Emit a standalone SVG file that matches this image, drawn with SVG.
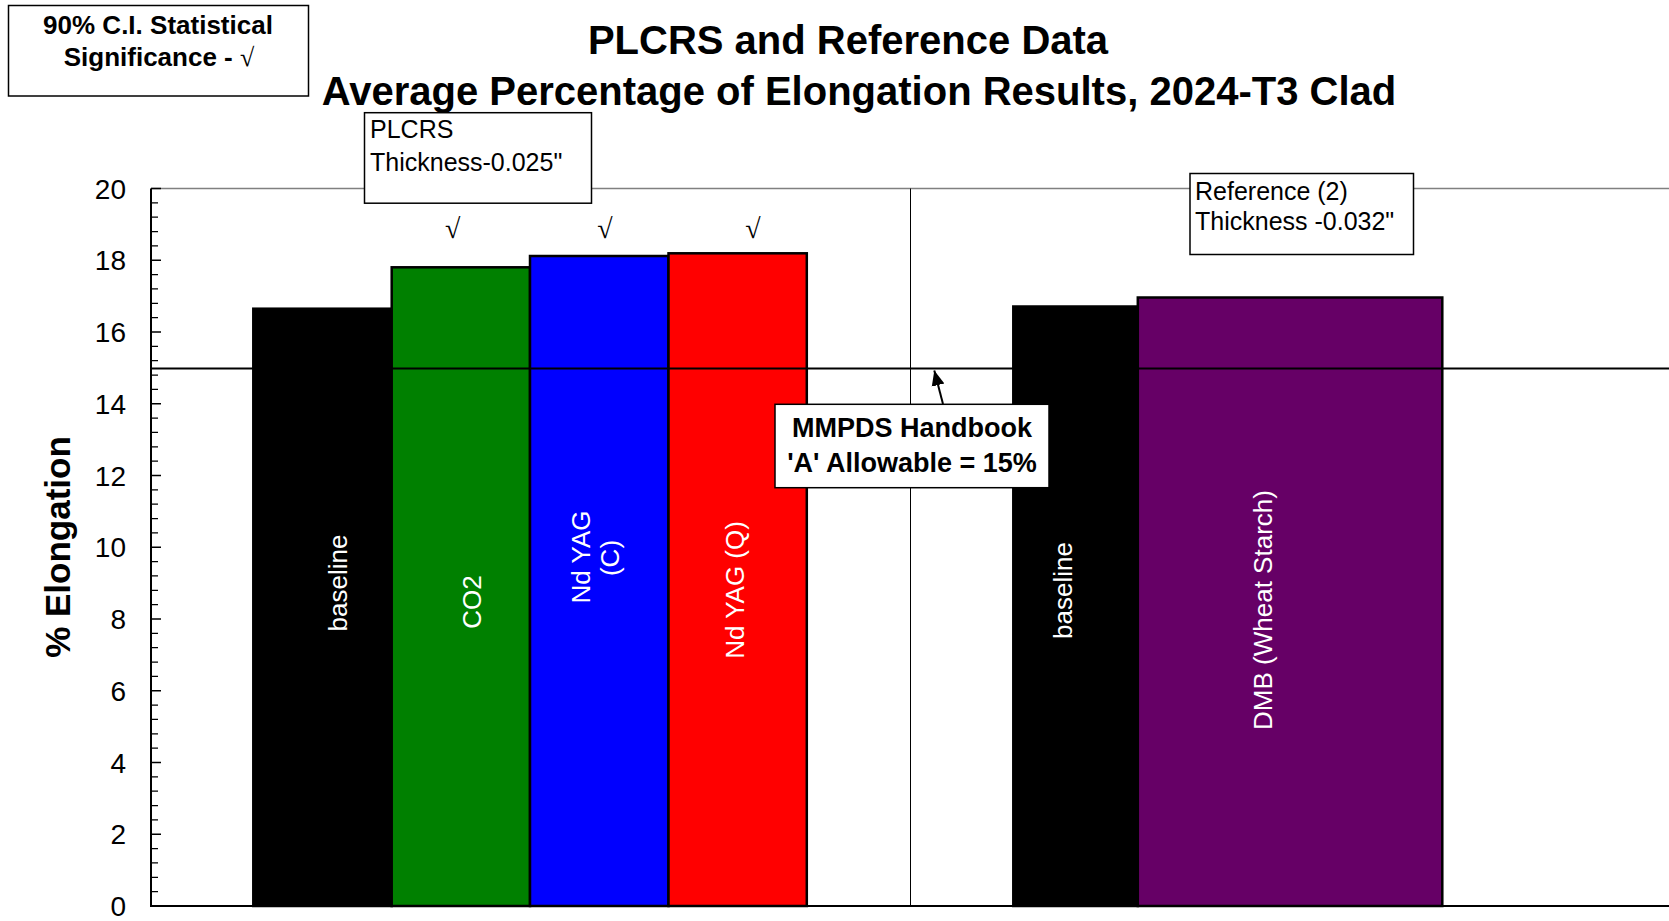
<svg xmlns="http://www.w3.org/2000/svg" width="1669" height="921" viewBox="0 0 1669 921">
<style>
  .sans { font-family: "Liberation Sans", Arial, sans-serif; }
  .bold { font-family: "Liberation Sans", Arial, sans-serif; font-weight: bold; }
  .serif { font-family: "Liberation Serif", "Times New Roman", serif; }
  .tick { font-family: "Liberation Sans", Arial, sans-serif; font-size: 28px; text-anchor: end; fill: #000; }
  .barlabel { font-family: "Liberation Sans", Arial, sans-serif; font-size: 26px; fill: #fff; text-anchor: middle; }
  .bar { stroke: #000; stroke-width: 2.5; }
  .box { fill: #fff; stroke: #000; stroke-width: 1.5; }
  .check { font-family: "Liberation Serif", "Times New Roman", serif; font-size: 28px; text-anchor: middle; }
</style>
<defs>
  <marker id="arrowhead" markerUnits="userSpaceOnUse" markerWidth="16" markerHeight="16" viewBox="0 0 16 16" refX="15" refY="8" orient="auto">
    <path d="M0,1.5 L15,8 L0,14.5 Z" fill="#000"/>
  </marker>
</defs>
<rect x="0" y="0" width="1669" height="921" fill="#fff"/>

<g id="title">
  <text class="bold" x="848" y="54" font-size="40" text-anchor="middle">PLCRS and Reference Data</text>
  <text class="bold" x="859" y="105" font-size="40" text-anchor="middle">Average Percentage of Elongation Results, 2024-T3 Clad</text>
</g>

<g id="plot-frame">
  <line x1="151" y1="188.5" x2="1669" y2="188.5" stroke="#808080" stroke-width="1.5"/>
  <line x1="910.5" y1="188.5" x2="910.5" y2="906" stroke="#000" stroke-width="1"/>
</g>

<g id="bars">
  <rect id="bar-plcrs-baseline" class="bar" x="253.3" y="308.7" width="138.4" height="597.3" fill="#000"/>
  <rect id="bar-co2" class="bar" x="391.7" y="267.3" width="138.3" height="638.7" fill="#008000"/>
  <rect id="bar-ndyag-c" class="bar" x="530" y="256" width="138.5" height="650" fill="#0000ff"/>
  <rect id="bar-ndyag-q" class="bar" x="668.5" y="253.3" width="138.3" height="652.7" fill="#ff0000"/>
  <rect id="bar-ref-baseline" class="bar" x="1013.3" y="306.5" width="124.5" height="599.5" fill="#000"/>
  <rect id="bar-dmb" class="bar" x="1137.8" y="297.5" width="304.5" height="608.5" fill="#660066"/>
</g>

<g id="bar-labels">
  <text class="barlabel" transform="translate(347,583) rotate(-90)">baseline</text>
  <text class="barlabel" transform="translate(481,602) rotate(-90)">CO2</text>
  <text class="barlabel" transform="translate(590,557) rotate(-90)">Nd YAG</text>
  <text class="barlabel" transform="translate(619,558) rotate(-90)">(C)</text>
  <text class="barlabel" transform="translate(744,590) rotate(-90)">Nd YAG (Q)</text>
  <text class="barlabel" transform="translate(1072,590.5) rotate(-90)">baseline</text>
  <text class="barlabel" transform="translate(1272,610) rotate(-90)">DMB (Wheat Starch)</text>
</g>

<g id="checkmarks">
  <text class="check" x="452.6" y="238">√</text>
  <text class="check" x="605" y="238">√</text>
  <text class="check" x="753" y="238">√</text>
</g>

<g id="allowable-line">
  <line x1="151" y1="368.5" x2="1669" y2="368.5" stroke="#000" stroke-width="2.2"/>
</g>

<g id="axes">
  <line x1="151" y1="188.5" x2="151" y2="906" stroke="#000" stroke-width="2"/>
  <line x1="150" y1="906" x2="1669" y2="906" stroke="#000" stroke-width="2"/>
  <path stroke="#000" stroke-width="1.3" fill="none" d="
    M151,906H161 M151,891.65H158 M151,877.3H158 M151,862.95H158 M151,848.6H158
    M151,834.25H161 M151,819.9H158 M151,805.55H158 M151,791.2H158 M151,776.85H158
    M151,762.5H161 M151,748.15H158 M151,733.8H158 M151,719.45H158 M151,705.1H158
    M151,690.75H161 M151,676.4H158 M151,662.05H158 M151,647.7H158 M151,633.35H158
    M151,619H161 M151,604.65H158 M151,590.3H158 M151,575.95H158 M151,561.6H158
    M151,547.25H161 M151,532.9H158 M151,518.55H158 M151,504.2H158 M151,489.85H158
    M151,475.5H161 M151,461.15H158 M151,446.8H158 M151,432.45H158 M151,418.1H158
    M151,403.75H161 M151,389.4H158 M151,375.05H158 M151,360.7H158 M151,346.35H158
    M151,332H161 M151,317.65H158 M151,303.3H158 M151,288.95H158 M151,274.6H158
    M151,260.25H161 M151,245.9H158 M151,231.55H158 M151,217.2H158 M151,202.85H158
    M151,188.5H161"/>
  <text class="tick" x="126" y="916">0</text>
  <text class="tick" x="126" y="844.25">2</text>
  <text class="tick" x="126" y="772.5">4</text>
  <text class="tick" x="126" y="700.75">6</text>
  <text class="tick" x="126" y="629">8</text>
  <text class="tick" x="126" y="557.25">10</text>
  <text class="tick" x="126" y="485.5">12</text>
  <text class="tick" x="126" y="413.75">14</text>
  <text class="tick" x="126" y="342">16</text>
  <text class="tick" x="126" y="270.25">18</text>
  <text class="tick" x="126" y="198.5">20</text>
  <text class="bold" font-size="35" text-anchor="middle" transform="translate(70,547) rotate(-90)">% Elongation</text>
</g>

<g id="legend-significance">
  <rect class="box" x="8.5" y="5.5" width="300" height="90.5"/>
  <text class="bold" x="158" y="34" font-size="26" text-anchor="middle">90% C.I. Statistical</text>
  <text x="159" y="66" font-size="26" text-anchor="middle"><tspan class="bold">Significance - </tspan><tspan class="serif">√</tspan></text>
</g>

<g id="label-plcrs">
  <rect class="box" x="364.5" y="112.7" width="227" height="90.5"/>
  <text class="sans" x="370" y="137.5" font-size="25">PLCRS</text>
  <text class="sans" x="370" y="170.5" font-size="25">Thickness-0.025"</text>
</g>

<g id="label-reference">
  <rect class="box" x="1190" y="173.5" width="223.5" height="81"/>
  <text class="sans" x="1195" y="199.5" font-size="25">Reference (2)</text>
  <text class="sans" x="1195" y="230" font-size="25">Thickness -0.032"</text>
</g>

<g id="label-mmpds">
  <rect class="box" x="775" y="404.3" width="274" height="83.4"/>
  <text class="bold" x="912" y="436.7" font-size="27" text-anchor="middle">MMPDS Handbook</text>
  <text class="bold" x="912" y="471.7" font-size="27" text-anchor="middle">'A' Allowable = 15%</text>
</g>

<g id="connectors">
  <line x1="943" y1="404" x2="934.3" y2="370.5" stroke="#000" stroke-width="2" marker-end="url(#arrowhead)"/>
</g>
</svg>
